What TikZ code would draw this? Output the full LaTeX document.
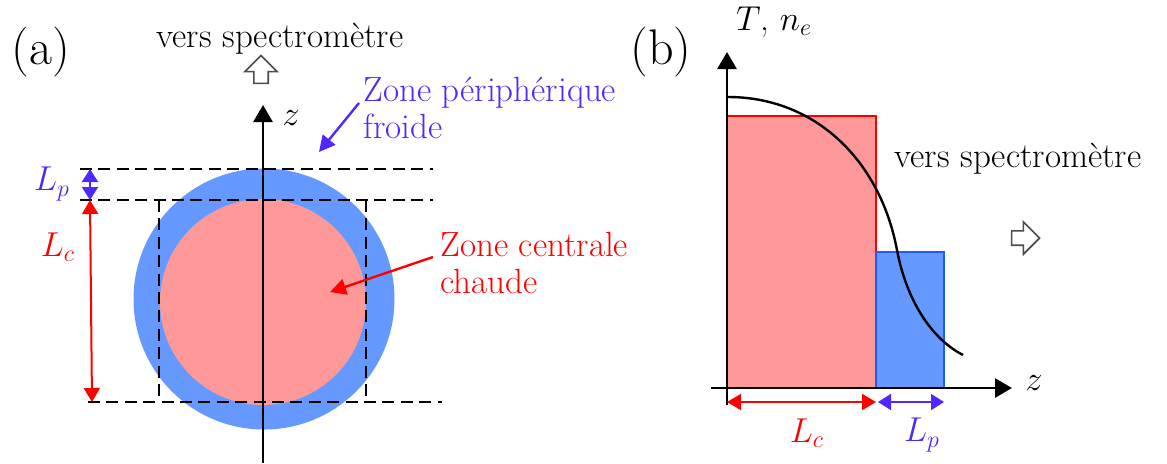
\documentclass[tikz,border=0pt]{standalone}
\usepackage{amsmath}
\usepackage{xcolor}
\usepackage{tikz}
\usetikzlibrary{arrows.meta,positioning,shapes.arrows}

\definecolor{hotpink}{RGB}{255,153,153}
\definecolor{coldblue}{RGB}{102,153,255}
\definecolor{edgeblue}{RGB}{30,90,255}
\definecolor{textblue}{RGB}{80,40,255}

\begin{document}
\begin{tikzpicture}[
    x=0.5pt, y=-0.5pt,
    txt/.style={font=\fontsize{17.5}{18.5}\selectfont, inner sep=0pt},
    panel/.style={font=\fontsize{25}{28}\selectfont, inner sep=0pt},
    axis/.style={line width=1.4pt, -{Triangle[width=9.5pt,length=8.5pt]}},
    dashline/.style={line width=1.2pt, dash pattern=on 6pt off 3.2pt},
    dimc/.style={red, line width=1pt, {Triangle[width=8pt,length=7pt]}-{Triangle[width=8pt,length=7pt]}},
    dimp/.style={textblue, line width=1pt, {Triangle[width=8pt,length=6.5pt]}-{Triangle[width=8pt,length=6.5pt]}},
    pointer/.style={line width=1.2pt, -{Triangle[width=8pt,length=8pt]}},
    hollow/.style={single arrow, draw=black!70, fill=white, line width=0.8pt,
        minimum height=14pt, minimum width=15pt, inner sep=3.2pt,
        single arrow head extend=4.5pt}
]
\useasboundingbox (0,0) rectangle (1167,463);

% (a) plasma cross-section
\node[circle, fill=coldblue, minimum size=130.5pt, inner sep=0pt] (outer) at (264,299) {};
\node[circle, fill=hotpink, minimum size=103pt, inner sep=0pt] (inner) at (263,302) {};

\coordinate (top1) at (80,169);
\coordinate (top1e) at (433,169);
\coordinate (top2) at (80,200);
\coordinate (top2e) at (433,200);
\coordinate (bot) at (88,402);
\coordinate (bote) at (442,402);
\draw[dashline] (top1) -- (top1e);
\draw[dashline] (top2) -- (top2e);
\draw[dashline] (bot) -- (bote);
\foreach \x in {159,366} {
    \draw[dashline] (\x,200) -- (\x,402);
}

\coordinate (zfoot) at (263,463);
\coordinate (ztip) at (263,105);
\draw[axis] (zfoot) -- (ztip);
\node[txt] (za) at (291,118) {$z$};

\coordinate (lpa) at (90,169);
\coordinate (lpb) at (90,200);
\coordinate (lcb) at (92,402);
\draw[dimp] (lpa) -- (lpb);
\draw[dimc] (lpb) -- (lcb);
\node[txt, textblue] (lpl) at (52,184) {$L_p$};
\node[txt, red] (lcl) at (58,247) {$L_c$};

\node[panel] (pa) at (41,52) {(a)};
\node[txt, anchor=base] (spa) at (280,47) {vers spectromètre};
\node[hollow, shape border rotate=90] (upar) at (261,73) {};

\node[txt, textblue, align=left, anchor=north west] (peri) at (363,77) {Zone périphérique\\froide};
\coordinate (perito) at (319,152);
\draw[pointer, textblue] (peri.west |- 0,103) ++(-4,0) -- (perito);

\node[txt, red, align=left, anchor=north west] (centre) at (440,232) {Zone centrale\\chaude};
\coordinate (centreto) at (330,292);
\draw[pointer, red] (centre.west |- 0,257) ++(-7,0) -- (centreto);

% (b) profiles
\draw[red, line width=1pt, fill=hotpink] (727,116) rectangle (876,388);
\draw[edgeblue, line width=1pt, fill=coldblue] (876,252) rectangle (944,388);
\draw[line width=1.2pt] (728,97) .. controls (815,97) and (880,160) .. (897,250)
    .. controls (906,298) and (930,338) .. (963,355);

\coordinate (o) at (727,405);
\coordinate (ytip) at (727,52);
\coordinate (xfoot) at (711,388);
\coordinate (xtip) at (1012,388);
\draw[axis] (o) -- (ytip);
\draw[axis] (xfoot) -- (xtip);
\node[txt] (yl) at (774,22) {$T$, $n_e$};
\node[txt] (zb) at (1034,383) {$z$};

\coordinate (lcs) at (727,402);
\coordinate (lce) at (876,402);
\coordinate (lpe) at (944,402);
\draw[dimc] (lcs) -- (lce);
\draw[dimp] (lce) ++(2,0) -- (lpe);
\node[txt, red] (lcb2) at (807,433) {$L_c$};
\node[txt, textblue] (lpb2) at (922,435) {$L_p$};

\node[panel] (pb) at (661,52) {(b)};
\node[txt, anchor=base] (spb) at (1018,167) {vers spectromètre};
\node[hollow] (rar) at (1022,238) {};
\end{tikzpicture}
\end{document}
